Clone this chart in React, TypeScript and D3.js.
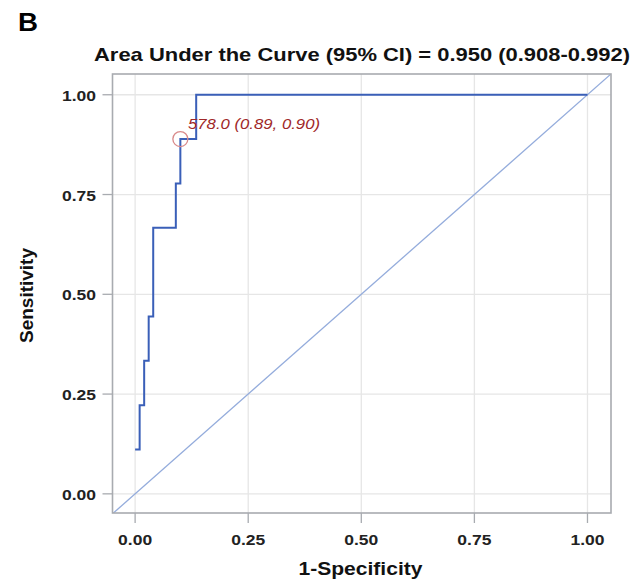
import React from "react";
import * as d3 from "d3";

const fprValues = [0.0, 0.01, 0.02, 0.03, 0.04, 0.09, 0.1, 0.135, 1.0];
const tprValues = [1 / 9, 2 / 9, 3 / 9, 4 / 9, 6 / 9, 7 / 9, 8 / 9, 1.0, 1.0];
const tickValues = [0, 0.25, 0.5, 0.75, 1.0];
const cutoffPoint = { fpr: 0.1, tpr: 8 / 9, label: "578.0 (0.89, 0.90)" };
const titleText = "Area Under the Curve (95% CI) = 0.950 (0.908-0.992)";
const panelLabel = "B";
const xLabel = "1-Specificity";
const yLabel = "Sensitivity";

export default function App() {
  const W = 634;
  const H = 583;
  const left = 112.5;
  const right = 611;
  const top = 74;
  const bottom = 513;
  const x = d3.scaleLinear().domain([-0.05, 1.052]).range([left, right]);
  const y = d3.scaleLinear().domain([-0.048, 1.052]).range([bottom, top]);
  const pts: [number, number][] = fprValues.map((f, i) => [f, tprValues[i]]);
  const line = d3
    .line<[number, number]>()
    .x((d) => x(d[0]))
    .y((d) => y(d[1]))
    .curve(d3.curveStepAfter);
  const font = "Arial, 'Liberation Sans', Helvetica, sans-serif";
  const fmt = d3.format(".2f");
  return (
    <svg
      width={W}
      height={H}
      style={{ position: "absolute", left: 0, top: 0, background: "#fff" }}
      fontFamily={font}
    >
      <text x={18} y={31} fontSize={25} fontWeight="bold" fill="#000" textLength={20} lengthAdjust="spacingAndGlyphs">
        {panelLabel}
      </text>
      <text
        x={94}
        y={61}
        fontSize={18.5}
        fontWeight="bold"
        fill="#111"
        textLength={536}
        lengthAdjust="spacingAndGlyphs"
      >
        {titleText}
      </text>
      {tickValues.map((t) => (
        <g key={"g" + t}>
          <line x1={x(t)} x2={x(t)} y1={top} y2={bottom} stroke="#e6e6e6" strokeWidth={1.3} />
          <line x1={left} x2={right} y1={y(t)} y2={y(t)} stroke="#e6e6e6" strokeWidth={1.3} />
        </g>
      ))}
      <defs>
        <clipPath id="plotclip">
          <rect x={left} y={top} width={right - left} height={bottom - top} />
        </clipPath>
      </defs>
      <line
        x1={x(-0.05)}
        y1={y(-0.05)}
        x2={x(1.06)}
        y2={y(1.06)}
        stroke="#94acdc"
        strokeWidth={1.3}
        clipPath="url(#plotclip)"
      />
      <path d={line(pts) || ""} fill="none" stroke="#3a5fb8" strokeWidth={2} />
      <circle
        cx={x(cutoffPoint.fpr)}
        cy={y(cutoffPoint.tpr)}
        r={7.5}
        fill="none"
        stroke="#d98a8a"
        strokeWidth={1.3}
      />
      <text
        x={188}
        y={y(cutoffPoint.tpr) - 10}
        fontSize={15}
        fontStyle="italic"
        fill="#a02828"
        textLength={132}
        lengthAdjust="spacingAndGlyphs"
      >
        {cutoffPoint.label}
      </text>
      <rect
        x={left}
        y={top}
        width={right - left}
        height={bottom - top}
        fill="none"
        stroke="#a8abb0"
        strokeWidth={1.6}
      />
      {tickValues.map((t) => (
        <g key={"t" + t}>
          <line x1={left - 10} x2={left} y1={y(t)} y2={y(t)} stroke="#a8abb0" strokeWidth={1.3} />
          <text
            x={96}
            y={y(t) + 6}
            fontSize={15}
            fontWeight="bold"
            textAnchor="end"
            fill="#222"
            textLength={34}
            lengthAdjust="spacingAndGlyphs"
          >
            {fmt(t)}
          </text>
          <line x1={x(t)} x2={x(t)} y1={bottom} y2={bottom + 10} stroke="#a8abb0" strokeWidth={1.3} />
          <text
            x={x(t)}
            y={545}
            fontSize={15}
            fontWeight="bold"
            textAnchor="middle"
            fill="#222"
            textLength={34}
            lengthAdjust="spacingAndGlyphs"
          >
            {fmt(t)}
          </text>
        </g>
      ))}
      <text
        x={360.5}
        y={575}
        fontSize={18.5}
        fontWeight="bold"
        textAnchor="middle"
        fill="#111"
        textLength={124}
        lengthAdjust="spacingAndGlyphs"
      >
        {xLabel}
      </text>
      <text
        transform={`translate(33, 295.5) rotate(-90)`}
        fontSize={18.5}
        fontWeight="bold"
        textAnchor="middle"
        fill="#111"
        textLength={95}
        lengthAdjust="spacingAndGlyphs"
      >
        {yLabel}
      </text>
    </svg>
  );
}
